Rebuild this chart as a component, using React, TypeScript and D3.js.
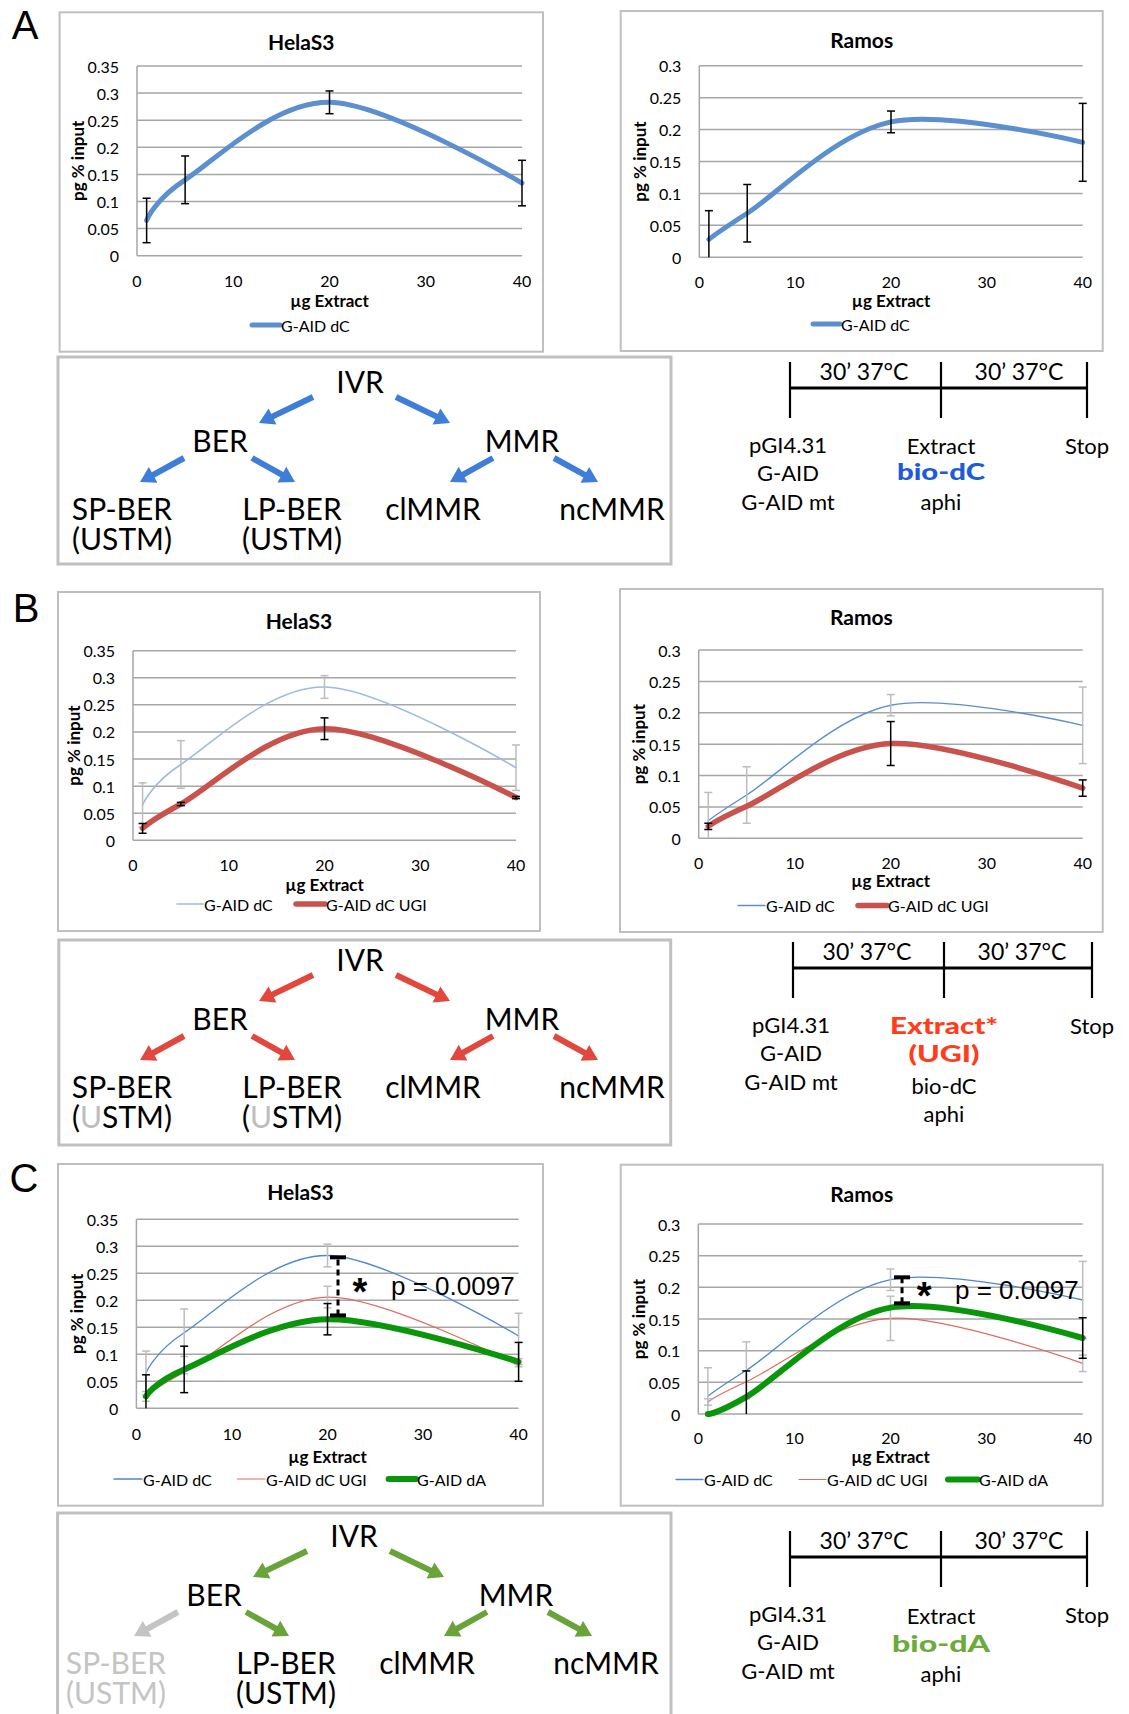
import React from "react";
import * as d3 from "d3";

// doses (µg extract) and axis ticks
const doses = [1, 5, 20, 40];
const xTicks = [0, 10, 20, 30, 40];
const helaYTicks = [0, 0.05, 0.1, 0.15, 0.2, 0.25, 0.3, 0.35];
const ramosYTicks = [0, 0.05, 0.1, 0.15, 0.2, 0.25, 0.3];

// HelaS3 series (pg % input) and error bars (±)
const helaDC = [0.065, 0.14, 0.283, 0.134];
const helaDCErr = [0.041, 0.044, 0.021, 0.042];
const helaUGI = [0.022, 0.067, 0.206, 0.079];
const helaUGIErr = [0.009, 0.003, 0.02, 0.002];
const helaDA = [0.022, 0.072, 0.165, 0.086];
const helaDAErr = [0.04, 0.043, 0.029, 0.036];

// Ramos series
const ramosDC = [0.028, 0.069, 0.212, 0.18];
const ramosDCErr = [0.045, 0.045, 0.017, 0.061];
const ramosUGI = [0.019, 0.051, 0.151, 0.08];
const ramosUGIErr = [0.005, null, 0.035, 0.013];
const ramosDA = [0.0, 0.027, 0.168, 0.12];
const ramosDAErr = [null, 0.041, null, 0.032];

// significance brackets [x, low, high]
const helaSig = [21.1, 0.172, 0.2796];
const ramosSig = [21.2, 0.1747, 0.2158];
const pLabel = "p = 0.0097";

const FONT = "Lato, 'Open Sans', sans-serif";

const mk = (label, values, errs, color, width, errColor) => ({ label, values, errs, color, width, errColor });

const panels = [
  {
    key: "aH", box: [59.6, 12.3, 543, 351.7], plot: [137, 522, 66, 255.7], yTicks: helaYTicks,
    title: "HelaS3", titleY: 41, tickY: 280, xLabelY: 300, legendY: 325, legend: [[252, 280]],
    series: [mk("G-AID dC", helaDC, helaDCErr, "#5b8fd0", 5, "#000")],
  },
  {
    key: "aR", box: [620.7, 11, 1102.7, 351], plot: [699.3, 1082.7, 65.7, 257.3], yTicks: ramosYTicks,
    title: "Ramos", titleY: 39.5, tickY: 281, xLabelY: 300, legendY: 324, legend: [[813, 840]],
    series: [mk("G-AID dC", ramosDC, ramosDCErr, "#5b8fd0", 5, "#000")],
  },
  {
    key: "bH", box: [58, 592, 540, 931], plot: [133, 516, 650.7, 840.3], yTicks: helaYTicks,
    title: "HelaS3", titleY: 620.5, tickY: 864, xLabelY: 884, legendY: 904, legend: [[177, 203], [296, 325]],
    series: [
      mk("G-AID dC", helaDC, helaDCErr, "#9dbbe0", 1.6, "#bdbdbd"),
      mk("G-AID dC UGI", helaUGI, helaUGIErr, "#c9524d", 5.5, "#000"),
    ],
  },
  {
    key: "bR", box: [620, 589, 1102.7, 932], plot: [698.7, 1082.7, 650, 838.3], yTicks: ramosYTicks,
    title: "Ramos", titleY: 616.5, tickY: 862, xLabelY: 880, legendY: 905.5, legend: [[738, 765], [858, 887]],
    series: [
      mk("G-AID dC", ramosDC, ramosDCErr, "#5b8fd0", 1.4, "#bdbdbd"),
      mk("G-AID dC UGI", ramosUGI, ramosUGIErr, "#c9524d", 5.5, "#000"),
    ],
  },
  {
    key: "cH", box: [58, 1164, 543, 1505.7], plot: [136.4, 518.6, 1219.3, 1408.3], yTicks: helaYTicks,
    title: "HelaS3", titleY: 1191, tickY: 1433, xLabelY: 1456, legendY: 1479,
    legend: [[114, 142], [237.5, 265], [388.6, 416]], sig: helaSig,
    series: [
      mk("G-AID dC", helaDC, helaDCErr, "#4f86cf", 1.3, "#bdbdbd"),
      mk("G-AID dC UGI", helaUGI, helaUGIErr, "#e06a60", 1.2, "#bdbdbd"),
      mk("G-AID dA", helaDA, helaDAErr, "#0a960a", 6, "#000"),
    ],
  },
  {
    key: "cR", box: [620.7, 1164.7, 1102.7, 1505.7], plot: [698.3, 1082.7, 1224, 1414], yTicks: ramosYTicks,
    title: "Ramos", titleY: 1193, tickY: 1437, xLabelY: 1456, legendY: 1479.5,
    legend: [[676, 703], [799, 826], [948, 978]], sig: ramosSig,
    series: [
      mk("G-AID dC", ramosDC, ramosDCErr, "#4f86cf", 1.3, "#bdbdbd"),
      mk("G-AID dC UGI", ramosUGI, ramosUGIErr, "#e06a60", 1.2, "#bdbdbd"),
      mk("G-AID dA", ramosDA, ramosDAErr, "#0a960a", 6, "#000"),
    ],
  },
];

function Chart({ p }) {
  const [bx0, by0, bx1, by1] = p.box;
  const [px0, px1, pyTop, pyBot] = p.plot;
  const yMax = p.yTicks[p.yTicks.length - 1];
  const x = d3.scaleLinear().domain([0, 40]).range([px0, px1]);
  const y = d3.scaleLinear().domain([0, yMax]).range([pyBot, pyTop]);
  const line = d3
    .line()
    .x((_, i) => x(doses[i]))
    .y((v) => y(v))
    .curve(d3.curveCardinal.tension(0));
  const fmt = d3.format(".2~f");
  const cy = (v) => y(Math.max(0, Math.min(yMax, v)));

  return (
    <g fontFamily={FONT}>
      <rect x={bx0} y={by0} width={bx1 - bx0} height={by1 - by0} fill="#fff" stroke="#bfbfbf" strokeWidth={2} />
      <text x={(bx0 + bx1) / 2} y={p.titleY} textAnchor="middle" dominantBaseline="central" fontWeight="bold" fontSize={21}>
        {p.title}
      </text>
      {p.yTicks.map((t) => (
        <line key={"g" + t} x1={px0} x2={px1} y1={y(t)} y2={y(t)} stroke="#a6a6a6" strokeWidth={1.5} />
      ))}
      <line x1={px0} x2={px0} y1={pyTop} y2={pyBot} stroke="#a6a6a6" strokeWidth={1.5} />
      {p.yTicks.map((t) => (
        <text key={"yt" + t} x={px0 - 18} y={y(t)} textAnchor="end" dominantBaseline="central" fontSize={16}>
          {fmt(t)}
        </text>
      ))}
      {xTicks.map((t) => (
        <text key={"xt" + t} x={x(t)} y={p.tickY} textAnchor="middle" dominantBaseline="central" fontSize={16}>
          {t}
        </text>
      ))}
      <text x={(px0 + px1) / 2} y={p.xLabelY} textAnchor="middle" dominantBaseline="central" fontWeight="bold" fontSize={17}>
        µg Extract
      </text>
      <text
        transform={`translate(${px0 - 60},${(pyTop + pyBot) / 2}) rotate(-90)`}
        textAnchor="middle"
        dominantBaseline="central"
        fontWeight="bold"
        fontSize={17}
      >
        pg % input
      </text>
      {p.series.map((s) => (
        <g key={s.label}>
          <path d={line(s.values)} fill="none" stroke={s.color} strokeWidth={s.width} strokeLinecap="round" />
          {s.values.map((v, i) => {
            const e = s.errs[i];
            if (e == null || e <= 0) return null;
            const xx = x(doses[i]);
            const hi = cy(v + e);
            const lo = cy(v - e);
            return (
              <g key={i} stroke={s.errColor} strokeWidth={1.5}>
                <line x1={xx} x2={xx} y1={hi} y2={lo} />
                {v + e <= yMax && <line x1={xx - 4} x2={xx + 4} y1={hi} y2={hi} />}
                {v - e >= 0 && <line x1={xx - 4} x2={xx + 4} y1={lo} y2={lo} />}
              </g>
            );
          })}
        </g>
      ))}
      {p.sig && (
        <g>
          <line x1={x(p.sig[0])} x2={x(p.sig[0])} y1={y(p.sig[1])} y2={y(p.sig[2])} stroke="#000" strokeWidth={3} strokeDasharray="6,4" />
          <line x1={x(p.sig[0]) - 8} x2={x(p.sig[0]) + 8} y1={y(p.sig[1])} y2={y(p.sig[1])} stroke="#000" strokeWidth={4} />
          <line x1={x(p.sig[0]) - 8} x2={x(p.sig[0]) + 8} y1={y(p.sig[2])} y2={y(p.sig[2])} stroke="#000" strokeWidth={4} />
          <text
            x={x(p.sig[0]) + 22}
            y={y((p.sig[1] + p.sig[2]) / 2) + 19}
            textAnchor="middle"
            fontFamily="'Liberation Sans', Arial, sans-serif"
            fontWeight="bold"
            fontSize={38}
          >
            *
          </text>
          <text
            x={x(p.sig[0]) + 53}
            y={y((p.sig[1] + p.sig[2]) / 2)}
            dominantBaseline="central"
            fontFamily="'Liberation Sans', Arial, sans-serif"
            fontSize={26}
          >
            {pLabel}
          </text>
        </g>
      )}
      {p.series.map((s, i) => {
        const [l0, l1] = p.legend[i];
        return (
          <g key={"lg" + i}>
            <line x1={l0} x2={l1} y1={p.legendY} y2={p.legendY} stroke={s.color} strokeWidth={s.width} strokeLinecap="round" />
            <text x={l1 + 1} y={p.legendY} dominantBaseline="central" fontSize={16}>
              {s.label}
            </text>
          </g>
        );
      })}
    </g>
  );
}

// pathway diagram (layout in panel A coordinates)
const nodes = [
  { t: "IVR", x: 360, y: 381 },
  { t: "BER", x: 220, y: 440 },
  { t: "MMR", x: 522, y: 440 },
  { t: "SP-BER", x: 122, y: 508 },
  { t: "LP-BER", x: 292, y: 508 },
  { t: "clMMR", x: 433, y: 508 },
  { t: "ncMMR", x: 612, y: 508 },
];
const arrows = [
  [313, 397, 259, 423],
  [396, 397, 450, 423],
  [184, 458, 140, 482],
  [252, 458, 295, 482],
  [493, 458, 450, 482],
  [554, 458, 598, 482],
];

function Arrow({ a, color }) {
  const [x1, y1, x2, y2] = a;
  const dx = x2 - x1;
  const dy = y2 - y1;
  const len = Math.hypot(dx, dy);
  const ux = dx / len;
  const uy = dy / len;
  const hl = 15;
  const hw = 9;
  const bx = x2 - ux * hl;
  const by = y2 - uy * hl;
  return (
    <g>
      <line x1={x1} y1={y1} x2={bx + ux * 2} y2={by + uy * 2} stroke={color} strokeWidth={6} />
      <polygon
        points={`${x2},${y2} ${bx - uy * hw},${by + ux * hw} ${bx + uy * hw},${by - ux * hw}`}
        fill={color}
      />
    </g>
  );
}

function Diagram({ box, dx, dy, color, greySP, greyU }) {
  const grey = "#c4c4c4";
  return (
    <g fontFamily={FONT} fontSize={30}>
      <rect x={box[0]} y={box[1]} width={box[2] - box[0]} height={box[3] - box[1]} fill="#fff" stroke="#c0c0c0" strokeWidth={3} />
      <g transform={`translate(${dx},${dy})`}>
        {arrows.map((a, i) => (
          <Arrow key={i} a={a} color={greySP && i === 2 ? grey : color} />
        ))}
        {nodes.map((n) => (
          <text
            key={n.t}
            x={n.x}
            y={n.y}
            textAnchor="middle"
            dominantBaseline="central"
            fill={greySP && n.t === "SP-BER" ? grey : "#000"}
          >
            {n.t}
          </text>
        ))}
        {[nodes[3], nodes[4]].map((n) => (
          <text
            key={"u" + n.t}
            x={n.x}
            y={n.y + 30}
            textAnchor="middle"
            dominantBaseline="central"
            fill={greySP && n.t === "SP-BER" ? grey : "#000"}
          >
            (<tspan fill={greyU ? "#bdbdbd" : undefined}>U</tspan>STM)
          </text>
        ))}
      </g>
    </g>
  );
}

function Timeline({ xs, y, mid }) {
  const [l, m, r] = xs;
  return (
    <g fontFamily={FONT} fontSize={22} textAnchor="middle">
      <line x1={l} x2={r} y1={y} y2={y} stroke="#000" strokeWidth={3} />
      {xs.map((xx) => (
        <line key={xx} x1={xx} x2={xx} y1={y - 26} y2={y + 30} stroke="#000" strokeWidth={2.2} />
      ))}
      <text x={l + 74} y={y - 17} dominantBaseline="central" fontSize={23}>30’ 37°C</text>
      <text x={m + 78} y={y - 17} dominantBaseline="central" fontSize={23}>30’ 37°C</text>
      <text x={l - 2} y={y + 56} dominantBaseline="central">pGI4.31</text>
      <text x={l - 2} y={y + 84} dominantBaseline="central">G-AID</text>
      <text x={l - 2} y={y + 113} dominantBaseline="central">G-AID mt</text>
      <text x={r} y={y + 57} dominantBaseline="central">Stop</text>
      {mid.map((t) => (
        <text
          key={t.t}
          x={m}
          y={y + t.dy - 2}
          dominantBaseline="central"
          fontWeight={t.color ? 900 : 400}
          fill={t.color || "#000"}
          textLength={t.w}
          lengthAdjust={t.w ? "spacingAndGlyphs" : undefined}
        >
          {t.t}
        </text>
      ))}
    </g>
  );
}

export default function App() {
  return (
    <svg width={1129} height={1714} style={{ position: "absolute", left: 0, top: 0, background: "#fff" }}>
      <rect width={1129} height={1714} fill="#fff" />
      {panels.map((p) => (
        <Chart key={p.key} p={p} />
      ))}
      <Diagram box={[58, 357, 671, 564]} dx={0} dy={0} color="#3f7ed8" />
      <Diagram box={[58.8, 940, 670.7, 1145]} dx={0} dy={578} color="#e2473d" greyU />
      <Diagram box={[57.6, 1513, 671, 1722]} dx={-6} dy={1154} color="#6aa33a" greySP />
      <Timeline
        xs={[790, 941, 1087]}
        y={388}
        mid={[
          { t: "Extract", dy: 59 },
          { t: "bio-dC", dy: 85, color: "#1f5bd8", w: 88 },
          { t: "aphi", dy: 115 },
        ]}
      />
      <Timeline
        xs={[793, 944, 1092]}
        y={968}
        mid={[
          { t: "Extract*", dy: 59, color: "#ff3c1c", w: 108 },
          { t: "(UGI)", dy: 87, color: "#ff3c1c", w: 71 },
          { t: "bio-dC", dy: 119 },
          { t: "aphi", dy: 147 },
        ]}
      />
      <Timeline
        xs={[790, 941, 1087]}
        y={1557}
        mid={[
          { t: "Extract", dy: 60 },
          { t: "bio-dA", dy: 88, color: "#6aab3a", w: 98 },
          { t: "aphi", dy: 118 },
        ]}
      />
      <g fontFamily="'Liberation Sans', Arial, sans-serif" fontSize={40} textAnchor="middle">
        <text x={25} y={39}>A</text>
        <text x={26} y={622}>B</text>
        <text x={24} y={1192}>C</text>
      </g>
    </svg>
  );
}
